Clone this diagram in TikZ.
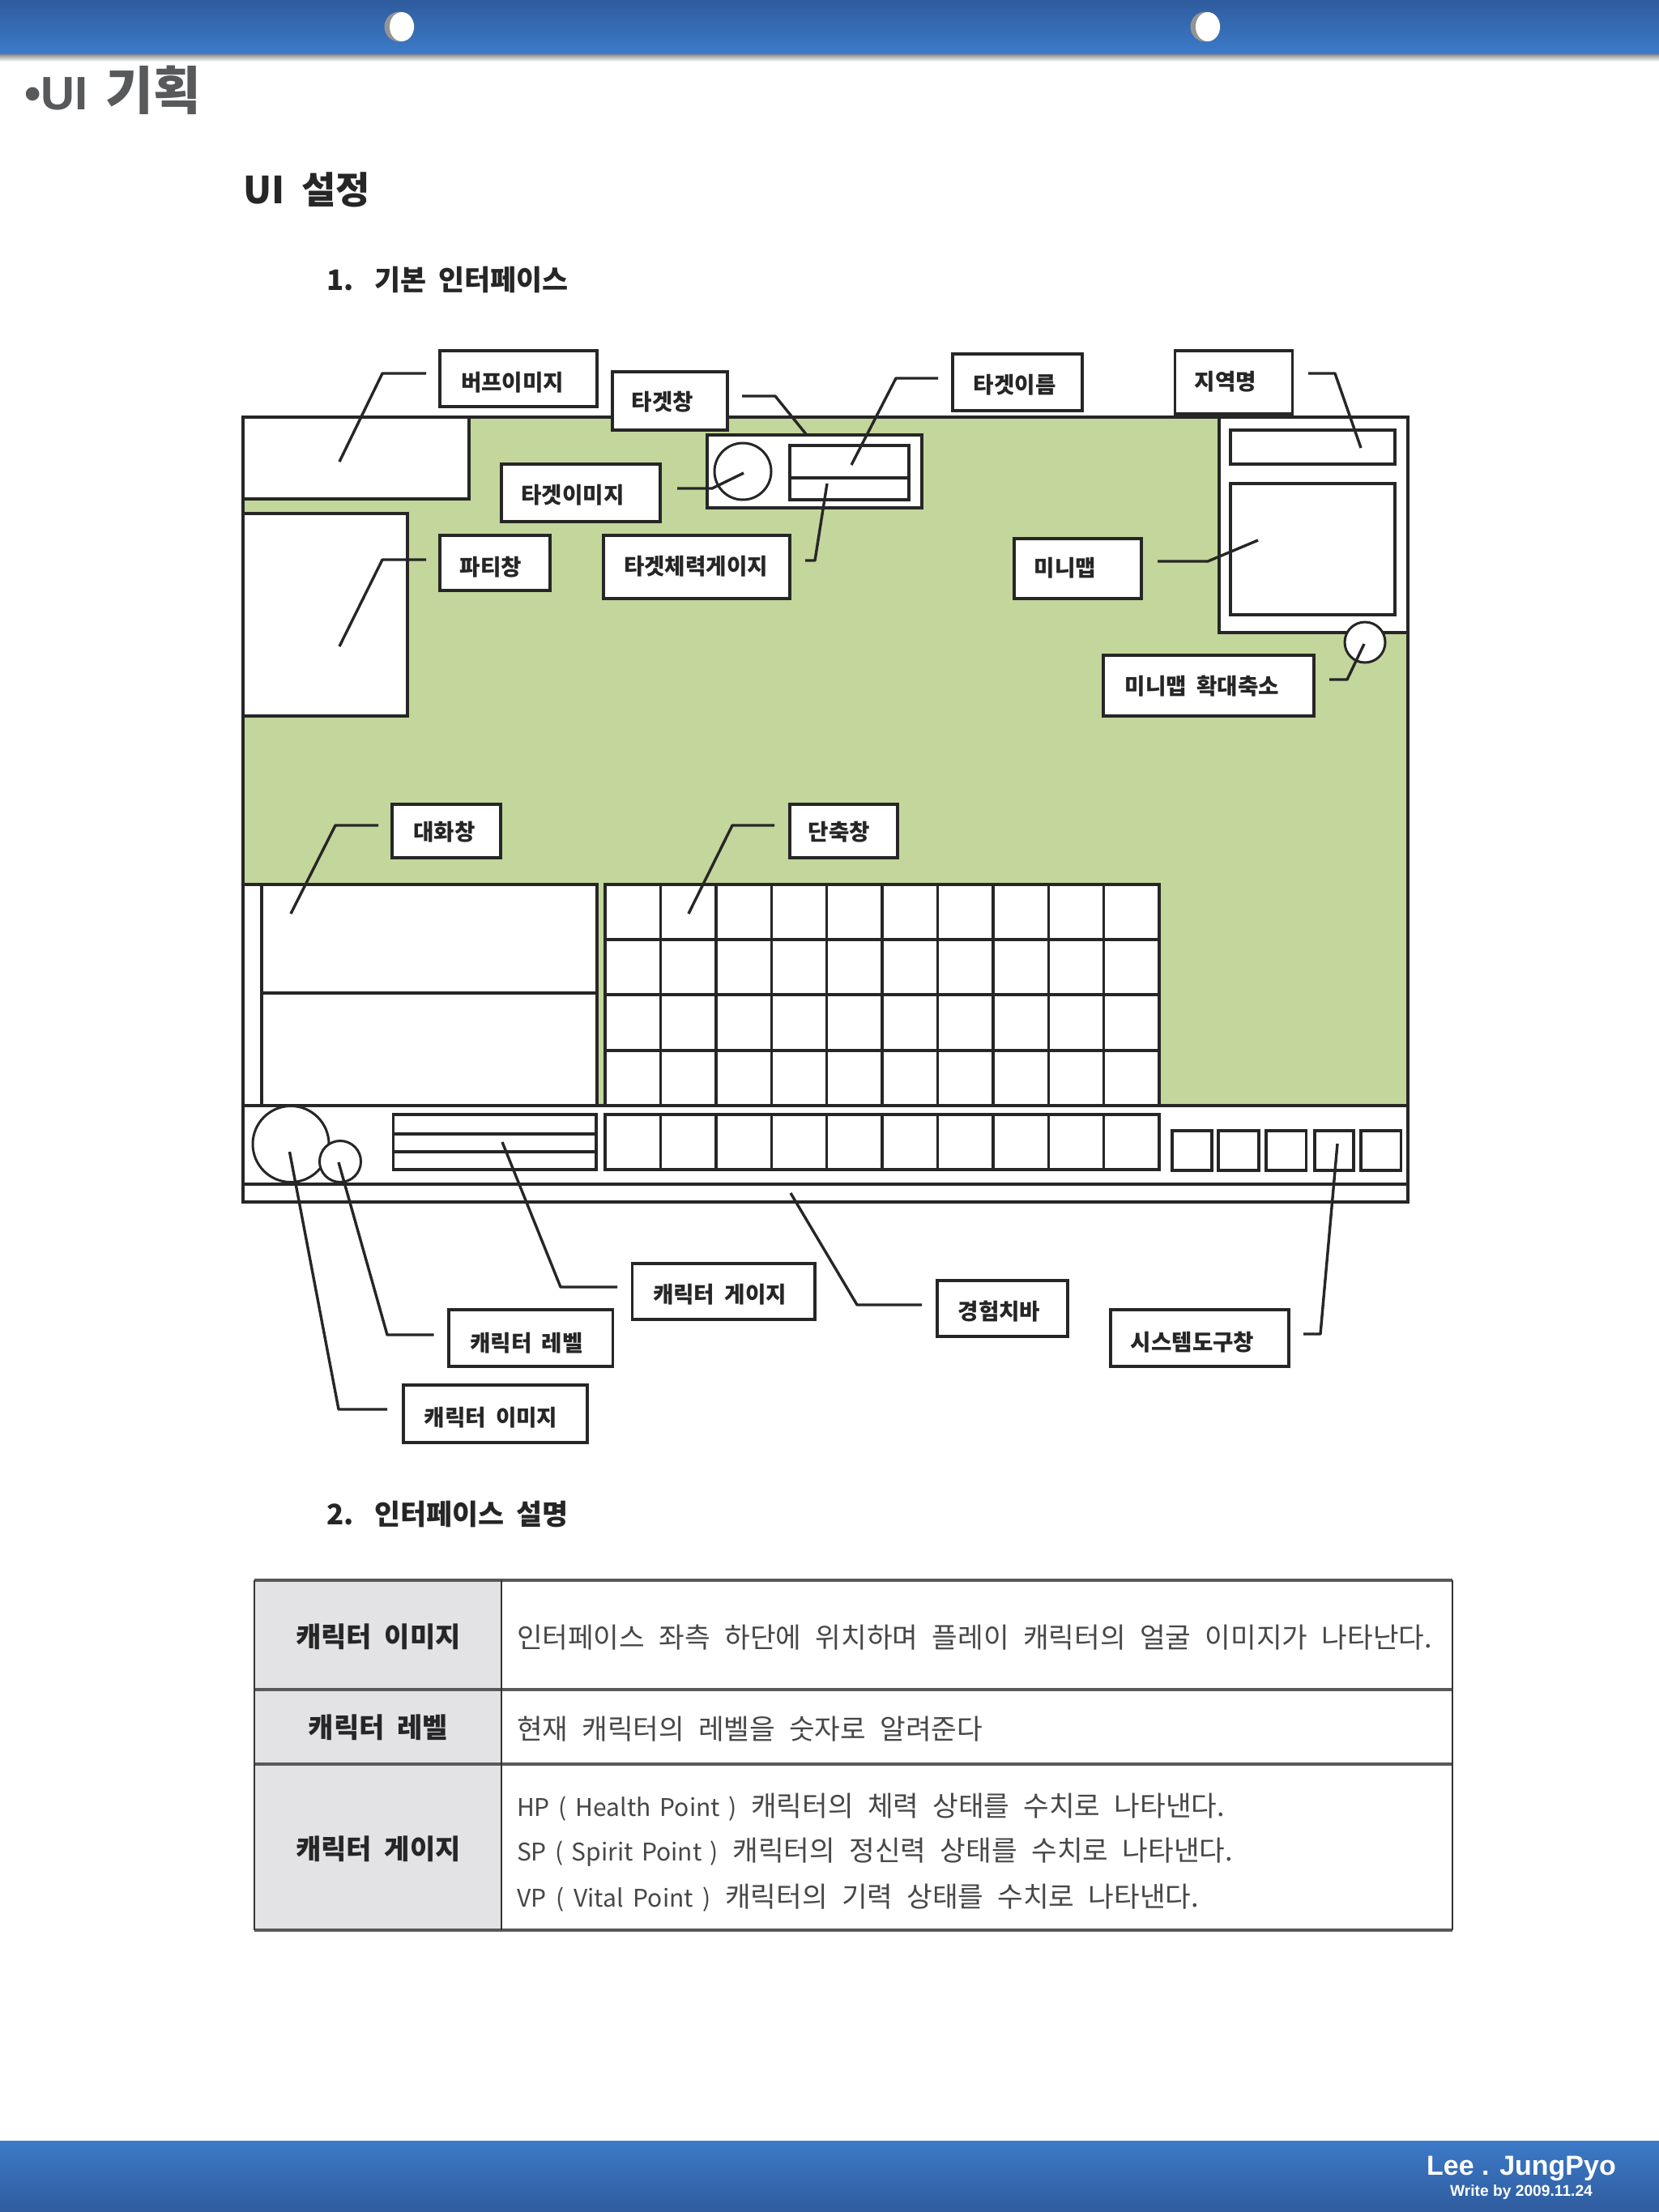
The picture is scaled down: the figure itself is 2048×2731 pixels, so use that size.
\documentclass[tikz,border=0pt]{standalone}
\usepackage{fontspec}
\setmainfont{Liberation Sans}
\newfontfamily\kr{Noto Sans CJK KR}
\definecolor{bartop}{HTML}{2F5C9E}
\definecolor{barbot}{HTML}{3C7AC8}
\definecolor{uigreen}{HTML}{C3D69B}
\definecolor{ink}{HTML}{262626}
\definecolor{tablegray}{HTML}{E3E3E6}
\definecolor{titlegray}{HTML}{58595B}
\newcommand{\Rct}[7]{%
  \pgfmathsetmacro\rw{(#5-#3)*0.5}\pgfmathsetmacro\rh{(#6-#4)*0.5}%
  \node[#1,minimum width=\rw pt,minimum height=\rh pt] (#2) at ({(#3+#5)/2},{(#4+#6)/2}) {#7};}
\newcommand{\Lab}[9]{%
  \pgfmathsetmacro\ldx{(#7-(#3+#5)/2)*0.5}%
  \pgfmathsetmacro\ldy{-(#8-(#4+#6)/2)*0.5-5}%
  \Rct{#1}{#2}{#3}{#4}{#5}{#6}{\hspace*{\ldx pt}\makebox[0pt]{\raisebox{\ldy pt}[0pt][0pt]{#9}}\hspace*{-\ldx pt}}}
\newcommand{\Txt}[6]{%
  \pgfmathsetmacro\tw{#5*0.5}%
  \node[plaintext,#1] (#2) at (#3,#4) {\makebox[\tw pt][s]{#6}};}
\newcommand{\Lat}[2]{\makebox[#1pt][s]{\fontsize{15pt}{18pt}\selectfont #2}}
\tikzset{
  x=0.5pt,y=-0.5pt,
  plaintext/.style={anchor=base west,inner sep=0pt,outer sep=0pt},
  win/.style={draw=ink,line width=1.7pt,fill=white,inner sep=0pt,outer sep=0pt},
  lab/.style={win,text=ink,font=\kr\bfseries\fontsize{13.8pt}{15pt}\selectfont},
  conn/.style={draw=ink,line width=1.7pt,line join=round},
  ring/.style={circle,draw=ink,line width=1.5pt,inner sep=0pt,outer sep=0pt},
  tlabel/.style={draw=none,fill=tablegray,inner sep=0pt,outer sep=0pt,text=ink,font=\kr\bfseries\fontsize{17pt}{19pt}\selectfont},
  tbody/.style={draw=none,fill=white,inner sep=0pt,outer sep=0pt},
  tbodytext/.style={text=black!72,font=\kr\fontsize{17.2pt}{19pt}\selectfont},
  hrule/.style={draw=black!65,line width=1.8pt},
  vrule/.style={draw=black!80,line width=1pt},
  holerim/.style={circle,minimum size=18.5pt,inner sep=0pt,fill=black!42},
  holeface/.style={ellipse,minimum width=15pt,minimum height=18pt,inner sep=0pt,fill=white},
}
\usetikzlibrary{shapes.geometric}
\begin{document}
\begin{tikzpicture}
\useasboundingbox (0,0) rectangle (2048,2731);
\fill[white] (0,0) rectangle (2048,2731);
% header and footer
\shade[top color=black!50,bottom color=white] (0,66) rectangle (2048,76);
\shade[top color=bartop,bottom color=barbot] (0,0) rectangle (2048,66);
\node[holerim] (holeA) at (493,33) {};
\node[holeface] (faceA) at (496,33) {};
\node[holerim] (holeB) at (1488,33) {};
\node[holeface] (faceB) at (1491,33) {};
\shade[top color=barbot,bottom color=bartop] (0,2643) rectangle (2048,2731);
\node[anchor=base,inner sep=0pt,text=white,font=\bfseries\fontsize{17pt}{19pt}\selectfont] (author) at (1878,2685) {Lee . JungPyo};
\node[anchor=base,inner sep=0pt,text=white,font=\bfseries\fontsize{9.6pt}{11pt}\selectfont] (written) at (1878,2711) {Write by 2009.11.24};
% headings
\node[plaintext,text=titlegray,font=\bfseries\fontsize{29pt}{31pt}\selectfont] (title) at (30,135) {•UI\hspace*{11pt}{\kr\fontsize{32pt}{34pt}\selectfont 기획}};
\Txt{text=ink,font=\kr\bfseries\fontsize{23pt}{25pt}\selectfont}{h1}{300}{251}{157}{UI 설정}
\Txt{text=ink,font=\kr\bfseries\fontsize{17.4pt}{19pt}\selectfont}{h2}{403}{358}{299}{1.\hspace*{13pt}기본 인터페이스}
\Txt{text=ink,font=\kr\bfseries\fontsize{17.4pt}{19pt}\selectfont}{h3}{403}{1882}{299}{2.\hspace*{13pt}인터페이스 설명}
% game screen
\Rct{win,fill=uigreen}{screen}{300}{515}{1738}{1365}{}
\Rct{win}{buffwin}{300}{515}{579}{616}{}
\Rct{win}{partywin}{300}{634}{503}{884}{}
\Rct{win}{targetwin}{873}{537}{1138}{627}{}
\Rct{win}{namebar}{975}{550}{1122}{590}{}
\Rct{win}{hpbar}{975}{590}{1122}{617}{}
\node[ring,fill=white,minimum size=35pt] (targetimg) at (917,582) {};
\Rct{win}{mappanel}{1505}{515}{1738}{781}{}
\Rct{win}{regionbar}{1519}{531}{1722}{573}{}
\Rct{win}{minimapwin}{1519}{597}{1722}{759}{}
\node[ring,fill=white,minimum size=25pt] (zoombtn) at (1685,793) {};
\Rct{win}{chatouter}{300}{1092}{737}{1365}{}
\Rct{win}{chatA}{323}{1092}{737}{1226}{}
\Rct{win}{chatB}{323}{1226}{737}{1365}{}
\foreach \c in {0,...,9}{
  \foreach \r/\ya/\yb in {0/1092/1160,1/1160/1228,2/1228/1297,3/1297/1365}{
    \pgfmathsetmacro\xa{747+68.4*\c}\pgfmathsetmacro\xb{747+68.4*(\c+1)}
    \Rct{win}{cell\c-\r}{\xa}{\ya}{\xb}{\yb}{}
  }
}
\Rct{win}{statusbar}{300}{1365}{1738}{1462}{}
\Rct{win}{expbar}{300}{1462}{1738}{1484}{}
\foreach \c in {0,...,9}{
  \pgfmathsetmacro\xa{747+68.4*\c}\pgfmathsetmacro\xb{747+68.4*(\c+1)}
  \Rct{win}{slot\c}{\xa}{1376}{\xb}{1444}{}
}
\Rct{win}{gaugeA}{485.5}{1376}{736}{1400}{}
\Rct{win}{gaugeB}{485.5}{1400}{736}{1422}{}
\Rct{win}{gaugeC}{485.5}{1422}{736}{1444}{}
\node[ring,fill=white,minimum size=47pt] (charimg) at (359,1412.5) {};
\node[ring,fill=white,minimum size=25.5pt] (charlvl) at (420,1434) {};
\foreach \n/\xa/\xb in {0/1447/1496,1/1504/1554,2/1563/1612.5,3/1623/1671,4/1680/1729.5}{
  \Rct{win}{sys\n}{\xa}{1396}{\xb}{1445}{}
}
% callout labels
\Lab{lab}{lbuff}{543}{433}{737}{502}{632.6}{472}{버프이미지}
\Lab{lab}{ltwin}{756}{459}{898}{531}{818}{496.5}{타겟창}
\Lab{lab}{ltimg}{619}{573}{815}{644}{707}{611}{타겟이미지}
\Lab{lab}{lparty}{543}{661}{679}{729}{606}{700}{파티창}
\Lab{lab}{lthp}{745}{661}{975}{739}{859}{699}{타겟체력게이지}
\Lab{lab}{ltname}{1176}{437}{1336}{507}{1252.6}{475}{타겟이름}
\Lab{lab}{lregion}{1450.5}{433}{1595.5}{511}{1513}{471}{지역명}
\Lab{lab}{lmap}{1252}{665}{1409}{739}{1315}{701.5}{미니맵}
\Lab{lab}{lzoom}{1362}{809}{1622}{884}{1484}{847}{미니맵\hspace*{3pt} 확대축소}
\Lab{lab}{lchat}{484}{993}{618}{1059}{548.6}{1027.5}{대화창}
\Lab{lab}{lshort}{975}{993}{1108}{1059}{1036}{1027.5}{단축창}
\Lab{lab}{lgauge}{780.5}{1560}{1006}{1629}{888.5}{1598}{캐릭터\hspace*{3pt} 게이지}
\Lab{lab}{llevel}{554}{1617}{756.5}{1687}{650}{1658}{캐릭터\hspace*{3pt} 레벨}
\Lab{lab}{limage}{498}{1710}{725}{1781}{606}{1750}{캐릭터\hspace*{3pt} 이미지}
\Lab{lab}{lexp}{1157}{1581}{1318}{1650}{1233.5}{1619}{경험치바}
\Lab{lab}{lsys}{1371}{1617}{1591}{1687}{1472}{1657}{시스템도구창}
% connector tips
\coordinate (tBuff) at (419,570);
\coordinate (tParty) at (419,798);
\coordinate (tTwin) at (995,536);
\coordinate (tTimg) at (918,584);
\coordinate (tThp) at (1021,597);
\coordinate (tTname) at (1051,574);
\coordinate (tRegion) at (1680,553);
\coordinate (tMap) at (1553,667);
\coordinate (tZoom) at (1684,795);
\coordinate (tChat) at (359,1128);
\coordinate (tShort) at (850,1128);
\coordinate (tGauge) at (620,1410);
\coordinate (tLevel) at (418,1435);
\coordinate (tImage) at (357.5,1422);
\coordinate (tExp) at (976,1473);
\coordinate (tSys) at (1651,1412);
% connectors
\draw[conn] ([shift={(-17,-6.5)}]lbuff.west) -- ++(-54,0) -- (tBuff);
\draw[conn] ([shift={(-17,-4)}]lparty.west) -- ++(-54,0) -- (tParty);
\draw[conn] ([shift={(18,-6)}]ltwin.east) -- ++(41,0) -- (tTwin);
\draw[conn] ([shift={(21,-5.5)}]ltimg.east) -- ++(43,0) -- (tTimg);
\draw[conn] ([shift={(19,-8)}]lthp.east) -- ++(12,0) -- (tThp);
\draw[conn] ([shift={(-18,-5)}]ltname.west) -- ++(-52,0) -- (tTname);
\draw[conn] ([shift={(19.5,-11)}]lregion.east) -- ++(33,0) -- (tRegion);
\draw[conn] ([shift={(20,-9)}]lmap.east) -- ++(62,0) -- (tMap);
\draw[conn] ([shift={(19,-7.5)}]lzoom.east) -- ++(22,0) -- (tZoom);
\draw[conn] ([shift={(-17,-7)}]lchat.west) -- ++(-53,0) -- (tChat);
\draw[conn] ([shift={(-19,-7)}]lshort.west) -- ++(-52,0) -- (tShort);
\draw[conn] ([shift={(-18.5,-5.5)}]lgauge.west) -- ++(-70,0) -- (tGauge);
\draw[conn] ([shift={(-18.5,-4)}]llevel.west) -- ++(-57.5,0) -- (tLevel);
\draw[conn] ([shift={(-20,-5.5)}]limage.west) -- ++(-60,0) -- (tImage);
\draw[conn] ([shift={(-19,-4.5)}]lexp.west) -- ++(-80,0) -- (tExp);
\draw[conn] ([shift={(18,-5)}]lsys.east) -- ++(21,0) -- (tSys);
% description table
\Lab{tlabel}{rowA}{314}{1951}{619}{2086}{467}{2023}{캐릭터\hspace*{4pt} 이미지}
\Lab{tlabel}{rowB}{314}{2086}{619}{2178}{467}{2135}{캐릭터\hspace*{4pt} 레벨}
\Lab{tlabel}{rowC}{314}{2178}{619}{2383}{467}{2285}{캐릭터\hspace*{4pt} 게이지}
\Rct{tbody}{bodyA}{619}{1951}{1793}{2086}{}
\Rct{tbody}{bodyB}{619}{2086}{1793}{2178}{}
\Rct{tbody}{bodyC}{619}{2178}{1793}{2383}{}
\draw[hrule] (rowA.north west) -- (bodyA.north east);
\draw[hrule] (rowB.north west) -- (bodyB.north east);
\draw[hrule] (rowC.north west) -- (bodyC.north east);
\draw[hrule] (rowC.south west) -- (bodyC.south east);
\draw[vrule] (rowA.north west) -- (rowC.south west);
\draw[vrule] (rowA.north east) -- (rowC.south east);
\draw[vrule] (bodyA.north east) -- (bodyC.south east);
\Txt{tbodytext}{tA}{638}{2034}{1130}{인터페이스 좌측 하단에 위치하며 플레이 캐릭터의 얼굴 이미지가 나타난다.}
\Txt{tbodytext}{tB}{638}{2147}{575}{현재 캐릭터의 레벨을 숫자로 알려준다}
\Txt{tbodytext}{tC}{638}{2242}{874}{\Lat{136}{HP ( Health Point )} 캐릭터의 체력 상태를 수치로 나타낸다.}
\Txt{tbodytext}{tD}{638}{2297}{884}{\Lat{124.5}{SP ( Spirit Point )} 캐릭터의 정신력 상태를 수치로 나타낸다.}
\Txt{tbodytext}{tE}{638}{2354}{842}{\Lat{120}{VP ( Vital Point )} 캐릭터의 기력 상태를 수치로 나타낸다.}
\end{tikzpicture}
\end{document}
